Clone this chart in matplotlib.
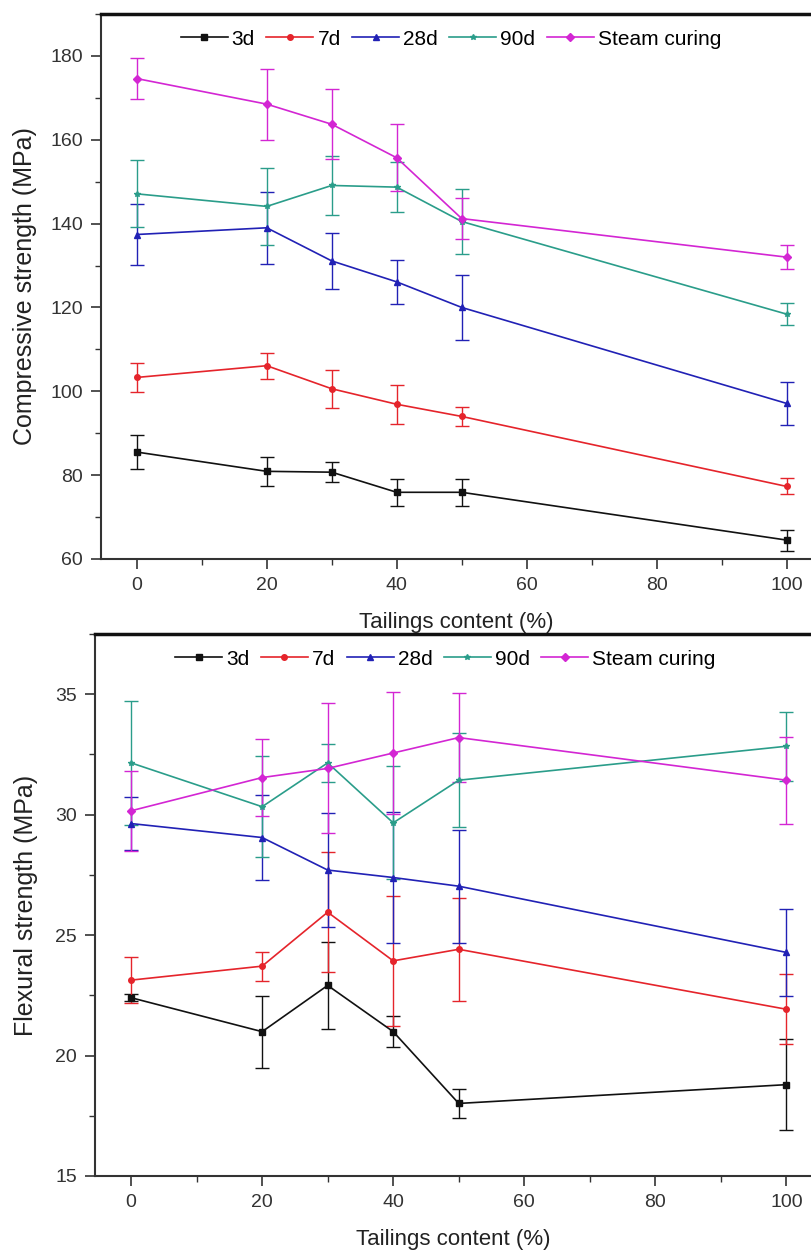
import numpy as np
import matplotlib.pyplot as plt
from matplotlib.ticker import MultipleLocator

# Tailings content (%)
tailings = [0, 20, 30, 40, 50, 100]
series = ["3d", "7d", "28d", "90d", "Steam curing"]

# Compressive strength (MPa) and error bars
comp_3d = [85.5, 80.9, 80.7, 75.9, 75.9, 64.5]
comp_3d_err = [4.1, 3.4, 2.4, 3.2, 3.2, 2.5]
comp_7d = [103.3, 106.1, 100.6, 96.9, 94.0, 77.3]
comp_7d_err = [3.4, 3.1, 4.5, 4.7, 2.3, 1.9]
comp_28d = [137.4, 139.0, 131.1, 126.1, 120.0, 97.1]
comp_28d_err = [7.3, 8.6, 6.6, 5.2, 7.7, 5.2]
comp_90d = [147.1, 144.1, 149.1, 148.7, 140.5, 118.4]
comp_90d_err = [8.0, 9.2, 7.0, 6.0, 7.8, 2.7]
comp_steam = [174.6, 168.5, 163.7, 155.7, 141.2, 132.0]
comp_steam_err = [4.8, 8.5, 8.3, 8.0, 4.8, 2.9]

# Flexural strength (MPa) and error bars
flex_3d = [22.4, 20.99, 22.91, 20.99, 18.01, 18.79]
flex_3d_err = [0.15, 1.5, 1.8, 0.65, 0.6, 1.9]
flex_7d = [23.13, 23.71, 25.95, 23.93, 24.41, 21.92]
flex_7d_err = [0.95, 0.6, 2.5, 2.7, 2.15, 1.45]
flex_28d = [29.63, 29.05, 27.7, 27.39, 27.03, 24.28]
flex_28d_err = [1.1, 1.77, 2.35, 2.7, 2.35, 1.8]
flex_90d = [32.15, 30.33, 32.15, 29.66, 31.43, 32.84]
flex_90d_err = [2.57, 2.1, 0.8, 2.35, 1.96, 1.43]
flex_steam = [30.16, 31.54, 31.92, 32.56, 33.2, 31.43]
flex_steam_err = [1.65, 1.6, 2.7, 2.55, 1.83, 1.8]

colors = ["#111111", "#e5242b", "#2121b5", "#2a9d8a", "#d326d3"]
markers = ["s", "o", "^", "*", "D"]

plt.rcParams['font.family'] = ['Liberation Sans', 'DejaVu Sans']

fig = plt.figure(figsize=(8.12, 12.51), dpi=100)
ax1 = fig.add_axes([0.1244, 0.5532, 0.8756, 0.4356])
ax2 = fig.add_axes([0.117, 0.0600, 0.883, 0.4332])


def draw(ax, data, errs, ylim, ymaj, ymin, ylabel):
    lines = []
    for name, vals, err, c, m in zip(series, data, errs, colors, markers):
        eb = ax.errorbar(tailings, vals, yerr=err, color=c, marker=m,
                         markersize=4, linewidth=1.2, elinewidth=1.0,
                         capsize=5, capthick=1.0, label=name)
        lines.append(eb[0])
    ax.set_xlim(-5.5, 103.9)
    ax.set_ylim(*ylim)
    ax.xaxis.set_major_locator(MultipleLocator(20))
    ax.xaxis.set_minor_locator(MultipleLocator(10))
    ax.yaxis.set_major_locator(MultipleLocator(ymaj))
    ax.yaxis.set_minor_locator(MultipleLocator(ymin))
    ax.tick_params(which='major', direction='out', length=7, width=1.2,
                   labelsize=14, colors='#333333', pad=6)
    ax.tick_params(which='minor', direction='out', length=4, width=1.0,
                   colors='#333333')
    ax.spines['right'].set_visible(False)
    ax.spines['top'].set_linewidth(2.5)
    ax.spines['top'].set_color('#111111')
    for s in ['left', 'bottom']:
        ax.spines[s].set_linewidth(1.5)
        ax.spines[s].set_color('#333333')
    ax.set_xlabel("Tailings content (%)", fontsize=16, color='#222222',
                  labelpad=13)
    ax.set_ylabel(ylabel, fontsize=18, color='#222222')
    ax.legend(lines, series, loc='upper left', bbox_to_anchor=(0.09, 1.0),
              ncol=5, frameon=False, fontsize=15, handlelength=2.25,
              handletextpad=0.2, columnspacing=0.55, borderaxespad=0.35)


draw(ax1,
     [comp_3d, comp_7d, comp_28d, comp_90d, comp_steam],
     [comp_3d_err, comp_7d_err, comp_28d_err, comp_90d_err, comp_steam_err],
     (60, 190), 20, 10, "Compressive strength (MPa)")
draw(ax2,
     [flex_3d, flex_7d, flex_28d, flex_90d, flex_steam],
     [flex_3d_err, flex_7d_err, flex_28d_err, flex_90d_err, flex_steam_err],
     (15, 37.5), 5, 2.5, "Flexural strength (MPa)")

ax1.yaxis.set_label_coords(-0.09, 0.5)
ax2.yaxis.set_label_coords(-0.08, 0.5)

fig.savefig("out.png", dpi=100)
